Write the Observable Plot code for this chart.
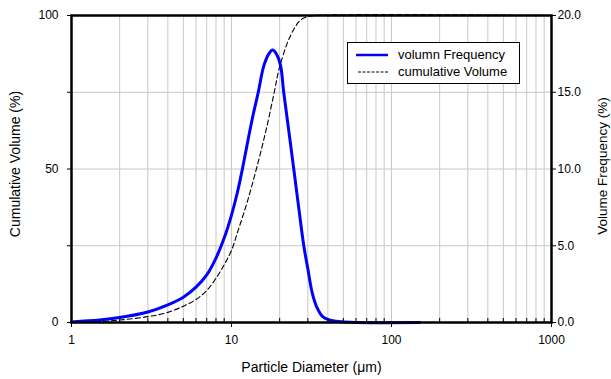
<!DOCTYPE html>
<html>
<head>
<meta charset="utf-8">
<script src="https://cdn.jsdelivr.net/npm/d3@7"></script>
<script src="https://cdn.jsdelivr.net/npm/@observablehq/plot@0.6"></script>
<style>
  html, body { margin: 0; padding: 0; background: #fff; }
  #wrap { position: relative; width: 611px; height: 379px; font-family: "Liberation Sans", Arial, sans-serif; }
  #legend {
    position: absolute; left: 347px; top: 42px; width: 173px; height: 42px;
    box-sizing: border-box; border: 1px solid #000; background: #fff;
    padding-top: 3px; font-size: 13px; color: #000;
  }
  #legend .row { display: flex; align-items: center; height: 17px; line-height: 17px; }
  #legend svg { margin-left: 8px; margin-right: 10px; }
</style>
</head>
<body>
<div id="wrap">
  <div id="chart"></div>
  <div id="legend"></div>
</div>
<script>
// ---- Data ----
// Volume frequency (%), right axis 0–20
const freqDiameter = [1, 1.5, 2, 3, 4, 5, 6, 7, 8, 9, 10, 10.9, 11.7, 12.8, 13.7, 14.7, 15.9, 17.1, 18.1, 19.3, 20.3, 21.2, 22.8, 24.5, 26.3, 28.3, 30, 32, 34.3, 37, 40, 45, 50, 60, 150];
const freqValue    = [0.04, 0.16, 0.32, 0.68, 1.15, 1.65, 2.3, 3.1, 4.2, 5.5, 7.0, 8.5, 10.0, 12.1, 13.6, 15.0, 16.7, 17.5, 17.75, 17.4, 16.7, 15.0, 12.5, 10.0, 7.5, 5.0, 3.5, 1.9, 0.95, 0.4, 0.2, 0.08, 0.04, 0, 0];

// Cumulative volume (%), left axis 0–100
const cumDiameter = [1, 1.5, 2, 3, 4, 5, 6, 7, 8, 9, 10, 11, 12.5, 14.3, 16.5, 18.5, 20, 23.4, 27, 30, 33, 1000];
const cumValue    = [0, 0.3, 0.8, 1.9, 3.3, 5.3, 7.5, 10.4, 14.4, 18.8, 23.5, 30, 39, 50, 63, 75, 83.3, 93.5, 98.5, 99.6, 100, 100];

// Axis ticks
const xMajorTicks = [1, 10, 100, 1000];
const xMinorTicks = [2,3,4,5,6,7,8,9, 20,30,40,50,60,70,80,90, 200,300,400,500,600,700,800,900];
const leftLabeledTicks = [0, 50, 100];
const leftMinorTicks = [25, 75];
const rightTicks = [0, 25, 50, 75, 100]; // in left units; label = value / 5
const freqScaleFactor = 5; // 20% frequency == 100 on left axis

const xLabel = "Particle Diameter (\u03bcm)";
const yLeftLabel = "Cumulative Volume (%)";
const yRightLabel = "Volume Frequency (%)";
const legendItems = ["volumn Frequency", "cumulative Volume"];

// ---- Build tables ----
const freqData = freqDiameter.map((d, i) => ({d, v: freqValue[i]}));
const cumData = cumDiameter.map((d, i) => ({d, v: cumValue[i]}));
const gridXTicks = [...xMajorTicks.slice(1, 3), ...xMinorTicks];

const font = "Liberation Sans, Arial, sans-serif";

const chart = Plot.plot({
  width: 611,
  height: 379,
  marginLeft: 71,
  marginRight: 60,
  marginTop: 15,
  marginBottom: 57,
  style: { fontFamily: font, fontSize: "12px", background: "#fff", color: "#000", overflow: "visible" },
  x: { type: "log", domain: [1, 1000] },
  y: { domain: [0, 100] },
  marks: [
    Plot.gridX(gridXTicks, { stroke: "#c8c8c8", strokeOpacity: 1, strokeWidth: 1 }),
    Plot.gridY(leftMinorTicks.concat([50]), { stroke: "#c8c8c8", strokeOpacity: 1, strokeWidth: 1 }),
    Plot.line(cumData, { x: "d", y: "v", stroke: "#000", strokeWidth: 1.1, strokeDasharray: "5,3", curve: "catmull-rom" }),
    Plot.line(freqData, { x: "d", y: d => d.v * freqScaleFactor, stroke: "#0000ff", strokeWidth: 3, curve: "catmull-rom" }),
    Plot.frame({ stroke: "#000", strokeWidth: 2.5 }),
    Plot.axisX(xMajorTicks, { tickSize: 5, tickPadding: 8, tickFormat: d => String(d), fontSize: 12, label: null }),
    Plot.axisX(xMinorTicks, { tickSize: -4, tickFormat: () => "", label: null }),
    Plot.axisY(leftLabeledTicks, { tickSize: 4, tickPadding: 9, tickFormat: d => String(d), fontSize: 12, label: null }),
    Plot.axisY(leftMinorTicks, { tickSize: 4, tickFormat: () => "", label: null }),
    Plot.axisY(rightTicks, { anchor: "right", tickSize: 4, tickPadding: 2, tickFormat: d => (d / freqScaleFactor).toFixed(1), fontSize: 12, label: null }),
    Plot.text([xLabel], { frameAnchor: "bottom", dy: 45, fontSize: 14, textAnchor: "middle", lineAnchor: "middle" }),
    Plot.text([yLeftLabel], { frameAnchor: "left", dx: -56, dy: -5, rotate: -90, fontSize: 14, textAnchor: "middle", lineAnchor: "middle" }),
    Plot.text([yRightLabel], { frameAnchor: "right", dx: 51, dy: -3, rotate: -90, fontSize: 13.5, textAnchor: "middle", lineAnchor: "middle" })
  ]
});
document.getElementById("chart").appendChild(chart);

// ---- Legend ----
const legend = document.getElementById("legend");
const samples = [
  '<svg width="32" height="10"><line x1="0" x2="32" y1="5" y2="5" stroke="#0000ff" stroke-width="2.5"/></svg>',
  '<svg width="32" height="10"><line x1="2" x2="32" y1="5" y2="5" stroke="#000" stroke-width="1" stroke-dasharray="3,1.5"/></svg>'
];
legendItems.forEach((t, i) => {
  const row = document.createElement("div");
  row.className = "row";
  row.innerHTML = samples[i] + "<span>" + t + "</span>";
  legend.appendChild(row);
});
</script>
</body>
</html>
